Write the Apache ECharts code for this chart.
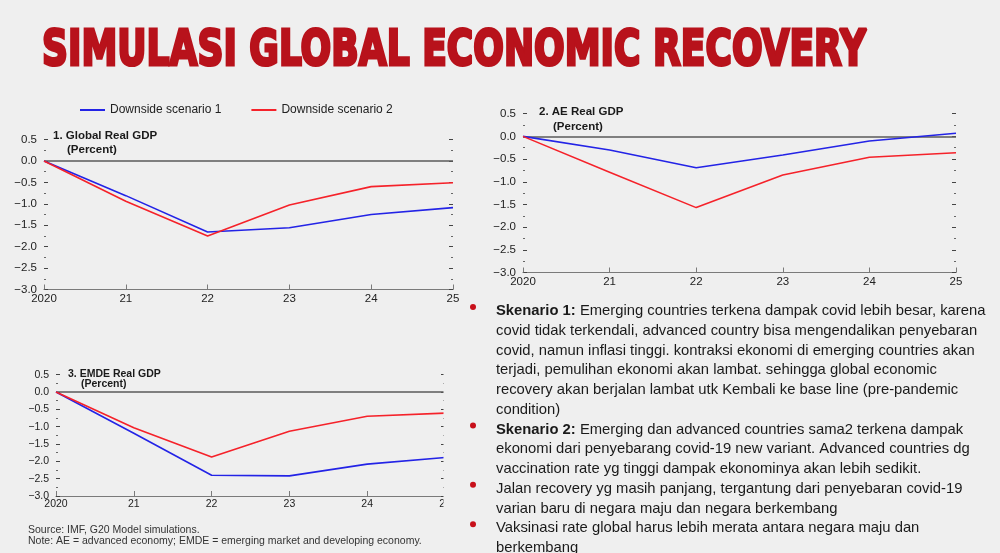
<!DOCTYPE html>
<html lang="en" style="height: 100%">
<head>
  <meta charset="utf-8" />
</head>
<body style="height: 100%; margin: 0; background: #efefef">
  <div id="container" style="width: 1000px; height: 553px"></div>

  <script src="https://cdn.jsdelivr.net/npm/echarts@6/dist/echarts.min.js"></script>
  <script type="text/javascript">
    // data
    var years = ["2020", "21", "22", "23", "24", "25"];
    var globalS1 = [0, -0.81, -1.66, -1.56, -1.25, -1.09];
    var globalS2 = [0, -0.94, -1.75, -1.03, -0.6, -0.51];
    var aeS1 = [0, -0.3, -0.69, -0.41, -0.1, 0.07];
    var aeS2 = [0, -0.79, -1.57, -0.85, -0.46, -0.36];
    var emdeS1 = [0, -1.19, -2.4, -2.42, -2.08, -1.89];
    var emdeS2 = [0, -1.03, -1.875, -1.13, -0.7, -0.61];
    var yMin = -3, yMax = 0.5, yStep = 0.5;
    var names = ["Downside scenario 1", "Downside scenario 2"];

    var FONT = "Liberation Sans";
    var BLUE = "#2323e6", RED = "#f5222a";

    var dom = document.getElementById("container");
    var myChart = echarts.init(dom, null, { renderer: "canvas" });

    function fmt(v) {
      return v.toFixed(1).replace("-", "\u2212");
    }

    function xAxisFor(i, fs) {
      return {
        gridIndex: i, type: "category", data: years, boundaryGap: false,
        axisLine: { onZero: false, lineStyle: { color: "#7a7a7a", width: 1.2 } },
        axisTick: { inside: true, length: 5, lineStyle: { color: "#7a7a7a" } },
        axisLabel: { fontSize: fs, color: "#222", margin: 3, fontFamily: FONT },
        splitLine: { show: false }
      };
    }

    function yAxisFor(i, fs, right) {
      return {
        gridIndex: i, type: "value", min: yMin, max: yMax, interval: yStep,
        position: right ? "right" : "left",
        axisLine: { show: false },
        axisTick: { show: true, inside: true, length: 4, lineStyle: { color: "#444" } },
        minorTick: { show: true, splitNumber: 2, length: 2, lineStyle: { color: "#666" } },
        splitLine: { show: false },
        axisLabel: {
          show: !right, fontSize: fs, color: "#222", margin: 7,
          fontFamily: FONT, formatter: fmt
        }
      };
    }

    function lineFor(name, data, color, axis, zero) {
      var s = {
        name: name, type: "line", data: data, symbol: "none",
        xAxisIndex: axis, yAxisIndex: axis * 2,
        lineStyle: { color: color, width: 1.6 },
        itemStyle: { color: color },
        z: 3
      };
      if (zero) {
        s.markLine = {
          silent: true, symbol: ["none", "none"], label: { show: false },
          lineStyle: { color: "#5a5a5a", type: "solid", width: 1.5 },
          data: [{ yAxis: 0 }], z: 2
        };
      }
      return s;
    }

    function txt(x, y, text, fs, bold, color) {
      return {
        type: "text", x: x, y: y, silent: true,
        style: {
          text: text, fontSize: fs, fontFamily: FONT,
          fontWeight: bold ? "bold" : "normal",
          fill: color || "#1a1a1a", verticalAlign: "middle"
        }
      };
    }

    // title, squeezed to look like the condensed heading
    var titleText = "SIMULASI GLOBAL ECONOMIC RECOVERY";
    var ctx = document.createElement("canvas").getContext("2d");
    ctx.font = 'bold 55px "DejaVu Sans"';
    var titleScale = 824 / ctx.measureText(titleText).width;

    var graphics = [
      {
        type: "text", x: 42, y: 52, scaleX: titleScale, scaleY: 0.9, silent: true,
        style: {
          text: titleText, fontSize: 55, fontFamily: "DejaVu Sans",
          fontWeight: "bold", fill: "#b8121b", verticalAlign: "middle",
          stroke: "#b8121b", lineWidth: 3.5
        }
      },
      txt(53, 136, "1. Global Real GDP", 11.5, true),
      txt(67, 150, "(Percent)", 11.5, true),
      txt(539, 112, "2. AE Real GDP", 11.5, true),
      txt(553, 127, "(Percent)", 11.5, true),
      txt(68, 374, "3. EMDE Real GDP", 10.5, true),
      txt(81, 384.5, "(Percent)", 10.5, true),
      // crop of the lower chart at its right edge
      {
        type: "rect", silent: true, z: 100,
        shape: { x: 443.5, y: 360, width: 22, height: 193 },
        style: { fill: "#efefef" }
      },
      txt(28, 530.5, "Source: IMF, G20 Model simulations.", 10.5, false, "#333"),
      {
        type: "text", x: 28, y: 541.5, silent: true, z: 99,
        style: {
          text: "Note: AE = advanced economy; EMDE = emerging market and developing economy.",
          fontSize: 10.5, fontFamily: FONT, fill: "#333", verticalAlign: "middle"
        }
      }
    ];

    // bullet text block
    var lines = [
      ["Skenario 1:", " Emerging countries terkena dampak covid lebih besar, karena"],
      ["", "covid tidak terkendali, advanced country bisa mengendalikan penyebaran"],
      ["", "covid, namun inflasi tinggi. kontraksi ekonomi di emerging countries akan"],
      ["", "terjadi, pemulihan ekonomi akan lambat. sehingga global economic"],
      ["", "recovery akan berjalan lambat utk Kembali ke base line (pre-pandemic"],
      ["", "condition)"],
      ["Skenario 2:", " Emerging dan advanced countries sama2 terkena dampak"],
      ["", "ekonomi dari penyebarang covid-19 new variant. Advanced countries dg"],
      ["", "vaccination rate yg tinggi dampak ekonominya akan lebih sedikit."],
      ["", "Jalan recovery yg masih panjang, tergantung dari penyebaran covid-19"],
      ["", "varian baru di negara maju dan negara berkembang"],
      ["", "Vaksinasi rate global harus lebih merata antara negara maju dan"],
      ["", "berkembang"]
    ];
    var bulletLines = [0, 6, 9, 11];
    lines.forEach(function (l, i) {
      var y = 311 + i * 19.75;
      var t = l[0] ? "{b|" + l[0] + "}" + l[1] : l[1];
      graphics.push({
        type: "text", x: 496, y: y, silent: true,
        style: {
          text: t, fontSize: 14.8, fontFamily: FONT, fill: "#1a1a1a",
          verticalAlign: "middle",
          rich: { b: { fontSize: 14.8, fontFamily: FONT, fontWeight: "bold", fill: "#1a1a1a" } }
        }
      });
      if (bulletLines.indexOf(i) >= 0) {
        graphics.push({
          type: "circle", silent: true,
          shape: { cx: 473, cy: y - 4, r: 3 },
          style: { fill: "#c8101a" }
        });
      }
    });

    var option = {
      animation: false,
      backgroundColor: "#efefef",
      legend: {
        left: 75, top: 99, itemWidth: 25, itemHeight: 2, itemGap: 30,
        icon: "rect",
        data: names,
        textStyle: { fontSize: 12, color: "#222", fontFamily: FONT }
      },
      grid: [
        { left: 44, right: 547, top: 139.5, bottom: 263.5 },
        { left: 523, right: 44, top: 113.7, bottom: 280.5 },
        { left: 56, right: 555, top: 374.7, bottom: 57 }
      ],
      xAxis: [xAxisFor(0, 11.5), xAxisFor(1, 11.5), xAxisFor(2, 10.5)],
      yAxis: [
        yAxisFor(0, 11.5, false), yAxisFor(0, 11.5, true),
        yAxisFor(1, 11.5, false), yAxisFor(1, 11.5, true),
        yAxisFor(2, 10.5, false), yAxisFor(2, 10.5, true)
      ],
      series: [
        lineFor(names[0], globalS1, BLUE, 0, true),
        lineFor(names[1], globalS2, RED, 0, false),
        lineFor(names[0], aeS1, BLUE, 1, true),
        lineFor(names[1], aeS2, RED, 1, false),
        lineFor(names[0], emdeS1, BLUE, 2, true),
        lineFor(names[1], emdeS2, RED, 2, false)
      ],
      graphic: graphics
    };

    myChart.setOption(option);
    window.addEventListener("resize", myChart.resize);
  </script>
</body>
</html>
